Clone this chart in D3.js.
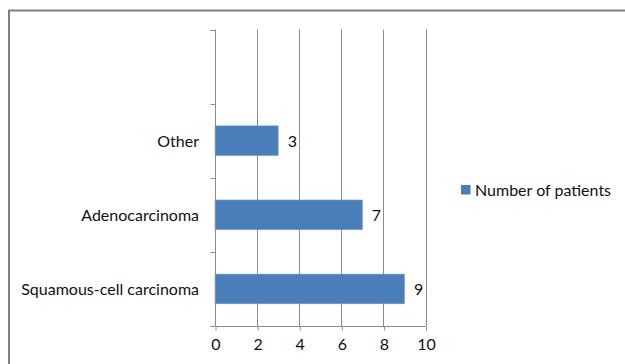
<!DOCTYPE html>
<html>
<head>
<meta charset="utf-8">
<script src="https://cdn.jsdelivr.net/npm/d3@7"></script>
<style>
  html, body { margin: 0; padding: 0; background: #fff; }
  svg { display: block; font-family: Lato, "Open Sans", sans-serif; }
</style>
</head>
<body>
<svg id="chart" width="625" height="364"></svg>
<script>
// Histological type (top to bottom); the first slot is left empty
const categories = ["", "Other", "Adenocarcinoma", "Squamous-cell carcinoma"];
const patients = [null, 3, 7, 9];
const xTicks = [0, 2, 4, 6, 8, 10];
const seriesName = "Number of patients";

const svg = d3.select("#chart");
const plot = { left: 215, right: 425.5, top: 29.5, bottom: 326 };
const grid = "#8c8c8c";
const barFill = "#4a7ebb";
const textColor = "#111";
const fontSize = 16;

// outer chart frame
svg.append("rect")
  .attr("x", 9).attr("y", 10.5)
  .attr("width", 700).attr("height", 400)
  .attr("fill", "none").attr("stroke", "#808080").attr("stroke-width", 2);

const x = d3.scaleLinear().domain([0, 10]).range([plot.left, plot.right]);
const y = d3.scaleBand().domain(categories)
  .range([plot.top, plot.bottom])
  .paddingInner(0.6).paddingOuter(0.3);
const slots = d3.scaleBand().domain(categories).range([plot.top, plot.bottom]);

// vertical gridlines
svg.append("g").selectAll("line")
  .data(xTicks.filter(t => t > 0))
  .join("line")
  .attr("x1", d => Math.round(x(d)) + 0.5).attr("x2", d => Math.round(x(d)) + 0.5)
  .attr("y1", plot.top).attr("y2", plot.bottom)
  .attr("stroke", grid).attr("stroke-width", 1);

// bars
const rows = categories.map((c, i) => ({ cat: c, value: patients[i] })).filter(d => d.value != null);
svg.append("g").selectAll("rect")
  .data(rows)
  .join("rect")
  .attr("x", x(0))
  .attr("y", d => y(d.cat))
  .attr("width", d => x(d.value) - x(0))
  .attr("height", y.bandwidth())
  .attr("fill", barFill)
  .attr("stroke", "#6f9bd0").attr("stroke-width", 0.6);

// value labels
svg.append("g").selectAll("text")
  .data(rows)
  .join("text")
  .attr("x", d => x(d.value) + 9.5)
  .attr("y", d => y(d.cat) + y.bandwidth() / 2 + 6)
  .attr("font-size", fontSize)
  .attr("fill", textColor)
  .text(d => d.value);

// x axis
const xAxis = d3.axisBottom(x).tickValues(xTicks).tickSize(4).tickPadding(8).tickFormat(d3.format("d"));
const gx = svg.append("g")
  .attr("transform", `translate(0.5,${plot.bottom + 0.5})`)
  .call(xAxis);
gx.select(".domain").attr("stroke", grid).attr("d", `M${plot.left},0H${plot.right}`);
gx.selectAll(".tick line").attr("stroke", grid);
gx.selectAll(".tick text").attr("font-size", fontSize).attr("fill", textColor)
  .attr("font-family", "Lato, sans-serif");

// y axis: ticks at slot boundaries, labels centred in each slot
const gy = svg.append("g").attr("transform", "translate(0.5,0)");
gy.append("line")
  .attr("x1", plot.left).attr("x2", plot.left)
  .attr("y1", plot.top).attr("y2", plot.bottom)
  .attr("stroke", grid);
const bounds = categories.map(c => slots(c)).concat([plot.bottom]);
gy.selectAll("line.tick")
  .data(bounds)
  .join("line")
  .attr("class", "tick")
  .attr("x1", plot.left - 5).attr("x2", plot.left)
  .attr("y1", d => Math.round(d) + 0.5).attr("y2", d => Math.round(d) + 0.5)
  .attr("stroke", grid);
svg.append("g").selectAll("text")
  .data(categories.filter(c => c !== ""))
  .join("text")
  .attr("x", 199)
  .attr("y", d => slots(d) + slots.bandwidth() / 2 + 6)
  .attr("text-anchor", "end")
  .attr("font-size", fontSize)
  .attr("fill", textColor)
  .text(d => d);

// legend
const legend = svg.append("g").attr("transform", "translate(461,185)");
legend.append("rect").attr("width", 9.5).attr("height", 9.5).attr("fill", barFill);
legend.append("text")
  .attr("x", 14).attr("y", 10.5)
  .attr("font-size", fontSize)
  .attr("fill", textColor)
  .text(seriesName);
</script>
</body>
</html>
